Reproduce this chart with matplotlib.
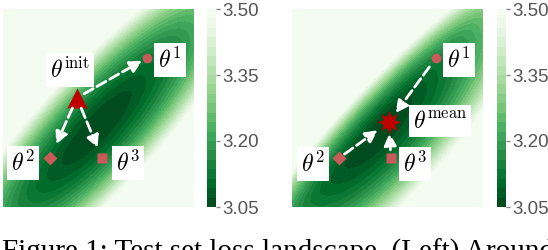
import numpy as np
import matplotlib.pyplot as plt

plt.rcParams['mathtext.fontset'] = 'cm'

# colour scale of the loss
loss_min, loss_max = 3.05, 3.50
cbar_ticks = [3.05, 3.20, 3.35, 3.50]
n_levels = 22

# valley shape per panel: centre x, centre y, angle (deg), length, width above, width below, power
left_valley = [0.49, 0.40, 46, 1.18, 0.30, 0.32, 2.0]
right_valley = [0.45, 0.38, 46, 1.15, 0.21, 0.36, 2.0]

# point positions (axes units 0..1)
theta_pts = [(0.754, 0.753), (0.246, 0.247), (0.518, 0.247)]
theta_init = (0.387, 0.551)
theta_mean = (0.508, 0.429)

# label positions
left_labels = [(0.874, 0.742), (0.105, 0.222), (0.654, 0.222)]
right_labels = [(0.874, 0.742), (0.110, 0.217), (0.644, 0.217)]
init_label = (0.351, 0.692)
mean_label = (0.775, 0.434)
theta_names = [r'$\theta^1$', r'$\theta^2$', r'$\theta^3$']

# arrow gaps at (start, end), in points
left_shrink = [(6, 4), (8, 11), (8, 8)]
right_shrink = [(8, 8), (5, 10), (6, 8)]

pt_markers = ['o', 'D', 's']
pt_sizes = [7, 7.5, 6.5]
light_red = '#c85a5a'
dark_red = '#c00000'


def landscape(valley, n=300):
    cx, cy, ang, lu, lv_up, lv_dn, p = valley
    x = np.linspace(0, 1, n)
    X, Y = np.meshgrid(x, x)
    a = np.deg2rad(ang)
    u = (X - cx) * np.cos(a) + (Y - cy) * np.sin(a)
    v = -(X - cx) * np.sin(a) + (Y - cy) * np.cos(a)
    lv = np.where(v > 0, lv_up, lv_dn)
    r = np.sqrt((u / lu) ** 2 + (v / lv) ** 2)
    Z = loss_min + (loss_max - loss_min) * r ** p
    return X, Y, np.clip(Z, loss_min, loss_max)


fig = plt.figure(figsize=(5.48, 2.50), dpi=100)
ax1 = fig.add_axes([0.0055, 0.172, 0.3485, 0.792])
cax1 = fig.add_axes([0.3777, 0.172, 0.0165, 0.792])
ax2 = fig.add_axes([0.5328, 0.172, 0.3485, 0.792])
cax2 = fig.add_axes([0.907, 0.172, 0.0165, 0.792])

levels = np.linspace(loss_min, loss_max, n_levels)
box = dict(facecolor='white', edgecolor='none', pad=3)

for ax, cax, valley in [(ax1, cax1, left_valley), (ax2, cax2, right_valley)]:
    X, Y, Z = landscape(valley)
    cf = ax.contourf(X, Y, Z, levels=levels, cmap='Greens_r')
    ax.set_xlim(0, 1)
    ax.set_ylim(0, 1)
    ax.axis('off')
    cb = fig.colorbar(cf, cax=cax, ticks=cbar_ticks)
    cb.outline.set_visible(False)
    cax.tick_params(length=3, width=1, color='#888888', labelcolor='#555555',
                    labelsize=13.5, pad=1.5)
    for t in cax.get_yticklabels():
        t.set_fontfamily('Liberation Sans')

arrow_kw = dict(arrowstyle='-|>', color='white', lw=2, ls='--', mutation_scale=18)

# left: from init out to the three points
for (px, py), sh in zip(theta_pts, left_shrink):
    ax1.annotate('', xy=(px, py), xytext=theta_init,
                 arrowprops=dict(arrow_kw, shrinkA=sh[0], shrinkB=sh[1]))
for (px, py), m, s in zip(theta_pts, pt_markers, pt_sizes):
    ax1.plot(px, py, marker=m, ms=s, color=light_red, mec='none')
ax1.plot(*theta_init, marker='^', ms=14, color=dark_red, mec='none')
for (lx, ly), name in zip(left_labels, theta_names):
    ax1.text(lx, ly, name, fontsize=17, ha='center', va='center', bbox=box)
ax1.text(*init_label, r'$\theta^{\mathrm{init}}$', fontsize=17, ha='center',
         va='center', bbox=box)

# right: from the three points in to the mean
for (px, py), sh in zip(theta_pts, right_shrink):
    ax2.annotate('', xy=theta_mean, xytext=(px, py),
                 arrowprops=dict(arrow_kw, shrinkA=sh[0], shrinkB=sh[1]))
for (px, py), m, s in zip(theta_pts, pt_markers, pt_sizes):
    ax2.plot(px, py, marker=m, ms=s, color=light_red, mec='none')
ax2.plot(*theta_mean, marker=(8, 1, 0), ms=17, color=dark_red, mec='none')
for (lx, ly), name in zip(right_labels, theta_names):
    ax2.text(lx, ly, name, fontsize=17, ha='center', va='center', bbox=box)
ax2.text(*mean_label, r'$\theta^{\mathrm{mean}}$', fontsize=17, ha='center',
         va='center', bbox=box)

fig.text(0.003, -0.038, 'Figure 1: Test set loss landscape. (Left) Around',
         fontfamily='Liberation Serif', fontsize=21, va='baseline')

fig.savefig('out.png', dpi=100)
